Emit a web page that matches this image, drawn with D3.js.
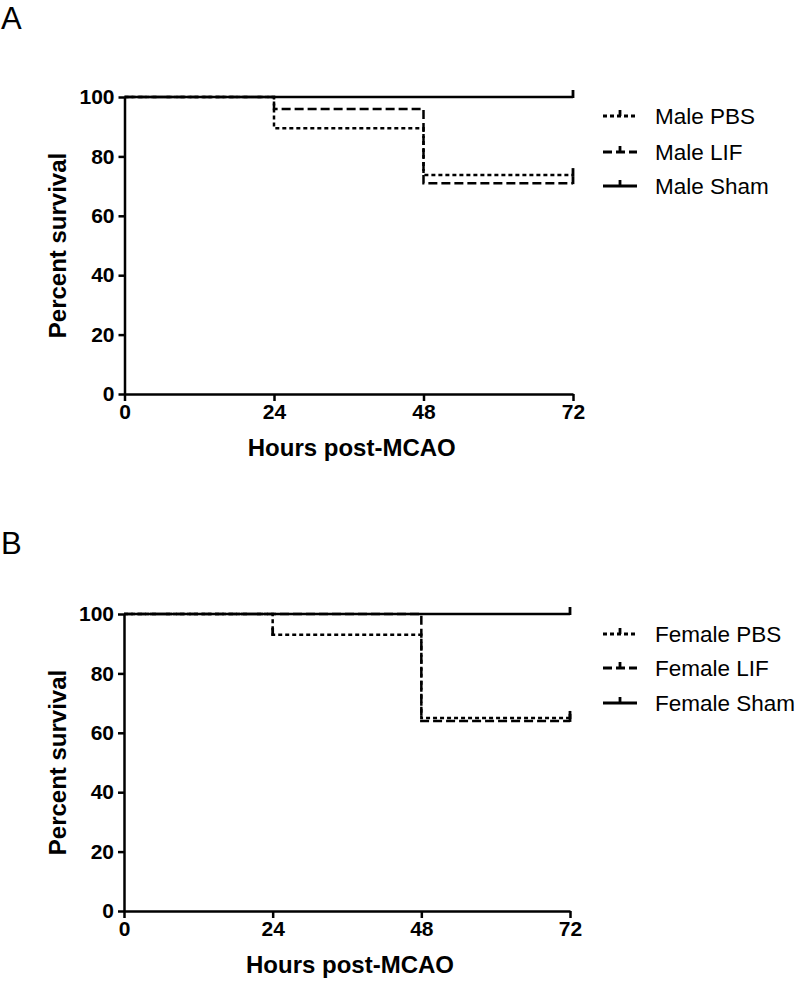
<!DOCTYPE html>
<html>
<head>
<meta charset="utf-8">
<script src="https://cdn.jsdelivr.net/npm/d3@7"></script>
<style>
  body { margin: 0; background: #fff; }
  text { font-family: Arial, "Liberation Sans", sans-serif; }
</style>
</head>
<body>
<svg width="800" height="981"></svg>
<script>
// time points (hours post-MCAO)
var timePoints = [0, 24, 48, 72];

// percent survival, male groups
var malePBS  = [100, 89.5, 73.7, 73.7];
var maleLIF  = [100, 96, 71, 71];
var maleSham = [100, 100, 100, 100];

// percent survival, female groups
var femalePBS  = [100, 93, 65, 65];
var femaleLIF  = [100, 100, 64, 64];
var femaleSham = [100, 100, 100, 100];

// censored marks (hours) per group
var censorPBSf = [24, 72];
var censorAll  = [72];

var xTicks = [0, 24, 48, 72];
var yTicks = [0, 20, 40, 60, 80, 100];

var dashes = { PBS: "4,3", LIF: "9,4", Sham: null };

var svg = d3.select("svg");

function drawPanel(opt) {
  var g = svg.append("g");

  var x = d3.scaleLinear().domain([0, 72]).range([opt.left, opt.right]);
  var y = d3.scaleLinear().domain([0, 100]).range([opt.bottom, opt.top]);

  // panel letter
  g.append("text")
    .attr("x", 1).attr("y", opt.letterY)
    .style("font-size", "31px")
    .text(opt.letter);

  var line = d3.line()
    .x(function(d) { return x(d.t); })
    .y(function(d) { return y(d.v); })
    .curve(d3.curveStepAfter);

  // curves, sham first so dashed ones sit on top
  opt.series.slice().reverse().forEach(function(s) {
    var pts = timePoints.map(function(t, i) { return {t: t, v: s.values[i]}; });
    g.append("path")
      .datum(pts)
      .attr("fill", "none")
      .attr("stroke", "#000")
      .attr("stroke-width", 2.5)
      .attr("stroke-dasharray", dashes[s.kind])
      .attr("d", line);

    // censor ticks
    s.censor.forEach(function(t) {
      var v = s.values[timePoints.indexOf(t)];
      g.append("line")
        .attr("x1", x(t)).attr("x2", x(t))
        .attr("y1", y(v) - 7).attr("y2", y(v) + 1)
        .attr("stroke", "#000").attr("stroke-width", 2.8);
    });
  });

  // axes
  var xAxis = g.append("g")
    .attr("transform", "translate(0," + opt.bottom + ")")
    .call(d3.axisBottom(x).tickValues(xTicks).tickSize(7).tickSizeOuter(0).tickPadding(3));
  var yAxis = g.append("g")
    .attr("transform", "translate(" + opt.left + ",0)")
    .call(d3.axisLeft(y).tickValues(yTicks).tickSize(6).tickSizeOuter(0).tickPadding(4));

  [xAxis, yAxis].forEach(function(a) {
    a.select(".domain").attr("stroke-width", 2.5);
    a.selectAll(".tick line").attr("stroke-width", 2.5);
    a.selectAll(".tick text")
      .style("font-family", "Arial, 'Liberation Sans', sans-serif")
      .style("font-size", "21px")
      .style("font-weight", "bold")
      .attr("fill", "#000");
  });

  // axis titles
  g.append("text")
    .attr("x", (opt.left + opt.right) / 2 + 3)
    .attr("y", opt.bottom + 62)
    .attr("text-anchor", "middle")
    .style("font-size", "24px").style("font-weight", "bold")
    .text("Hours post-MCAO");

  g.append("text")
    .attr("transform", "translate(66," + (opt.top + opt.bottom) / 2 + ") rotate(-90)")
    .attr("text-anchor", "middle")
    .style("font-size", "24px").style("font-weight", "bold")
    .text("Percent survival");

  // legend
  opt.series.forEach(function(s, i) {
    var by = opt.legendY[i];
    var ly = by - 8;
    g.append("line")
      .attr("x1", 603).attr("x2", 637)
      .attr("y1", ly).attr("y2", ly)
      .attr("stroke", "#000").attr("stroke-width", 2.8)
      .attr("stroke-dasharray", dashes[s.kind]);
    g.append("line")
      .attr("x1", 620).attr("x2", 620)
      .attr("y1", ly - 6).attr("y2", ly)
      .attr("stroke", "#000").attr("stroke-width", 2.8);
    g.append("text")
      .attr("x", 655).attr("y", by)
      .style("font-size", "22.5px")
      .text(s.name);
  });
}

drawPanel({
  letter: "A", letterY: 29,
  left: 124.5, right: 573, top: 97, bottom: 394,
  legendY: [124, 160, 194],
  series: [
    {name: "Male PBS", kind: "PBS", values: malePBS, censor: censorAll},
    {name: "Male LIF", kind: "LIF", values: maleLIF, censor: censorAll},
    {name: "Male Sham", kind: "Sham", values: maleSham, censor: censorAll}
  ]
});

drawPanel({
  letter: "B", letterY: 554,
  left: 124, right: 570, top: 614, bottom: 911,
  legendY: [642, 676, 711],
  series: [
    {name: "Female PBS", kind: "PBS", values: femalePBS, censor: censorPBSf},
    {name: "Female LIF", kind: "LIF", values: femaleLIF, censor: censorAll},
    {name: "Female Sham", kind: "Sham", values: femaleSham, censor: censorAll}
  ]
});
</script>
</body>
</html>
